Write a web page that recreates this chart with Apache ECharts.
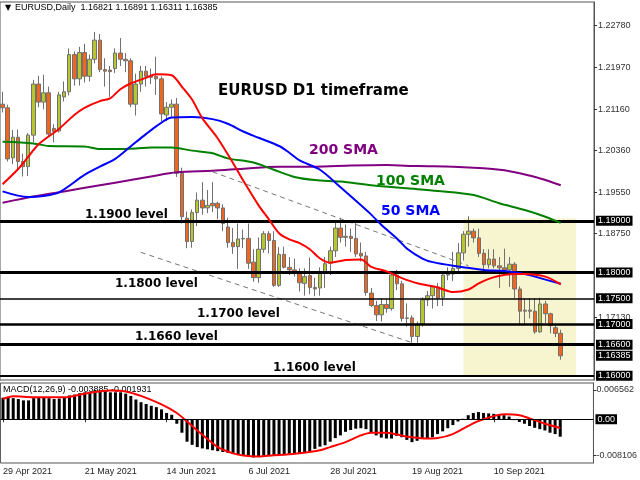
<!DOCTYPE html>
<html><head><meta charset="utf-8">
<script src="https://cdn.jsdelivr.net/npm/echarts@6/dist/echarts.min.js"></script>
<style>html,body{margin:0;padding:0;background:#fff}#c{width:640px;height:480px}</style>
</head><body><div id="c"></div>
<script>
// ---------- DATA ----------
const tradingDays = [
  ['Apr',[29,30]],
  ['May',[3,4,5,6,7,10,11,12,13,14,17,18,19,20,21,24,25,26,27,28,31]],
  ['Jun',[1,2,3,4,7,8,9,10,11,14,15,16,17,18,21,22,23,24,25,28,29,30]],
  ['Jul',[1,2,5,6,7,8,9,12,13,14,15,16,19,20,21,22,23,26,27,28,29,30]],
  ['Aug',[2,3,4,5,6,9,10,11,12,13,16,17,18,19,20,23,24,25,26,27,30,31]],
  ['Sep',[1,2,3,6,7,8,9,10,13,14,15,16,17,20,21,22,23,24,27,28,29]]
];
const emptySlots = 6;

const opens = [1.2126,1.2119,1.2022,1.2062,1.2015,1.2005,1.2066,1.2165,1.2130,1.2148,
1.2079,1.2074,1.2140,1.2150,1.2222,1.2175,1.2226,1.2180,1.2213,1.2250,
1.2193,1.2192,1.2195,1.2225,1.2213,1.2210,1.2126,1.2165,1.2190,1.2178,
1.2180,1.2175,1.2105,1.2120,1.2126,1.1992,1.1905,1.1860,1.1916,1.1940,
1.1925,1.1934,1.1934,1.1925,1.1888,1.1858,1.1850,1.1865,1.1866,1.1820,
1.1790,1.1845,1.1875,1.1862,1.1775,1.1835,1.1810,1.1805,1.1800,1.1779,
1.1794,1.1771,1.1770,1.1801,1.1818,1.1842,1.1886,1.1868,1.1870,1.1866,
1.1837,1.1832,1.1760,1.1736,1.1718,1.1738,1.1730,1.1795,1.1778,1.1711,
1.1712,1.1676,1.1700,1.1747,1.1755,1.1772,1.1752,1.1795,1.1797,1.1808,
1.1838,1.1874,1.1880,1.1867,1.1837,1.1815,1.1826,1.1813,1.1809,1.1805,
1.1816,1.1768,1.1725,1.1727,1.1725,1.1685,1.1739,1.1720,1.1693,1.16821];
const highs = [1.2150,1.2125,1.2076,1.2077,1.2030,1.2070,1.2173,1.2181,1.2183,1.2160,
1.2087,1.2150,1.2170,1.2234,1.2228,1.2237,1.2243,1.2222,1.2266,1.2262,
1.2215,1.2200,1.2234,1.2254,1.2225,1.2215,1.2185,1.2200,1.2200,1.2195,
1.2218,1.2180,1.2130,1.2135,1.2138,1.2003,1.1918,1.1922,1.1955,1.1975,
1.1960,1.1975,1.1937,1.1932,1.1906,1.1886,1.1895,1.1883,1.1895,1.1845,
1.1868,1.1880,1.1880,1.1880,1.1849,1.1850,1.1830,1.1827,1.1808,1.1808,
1.1829,1.1790,1.1810,1.1830,1.1850,1.1898,1.1906,1.1893,1.1885,1.1900,
1.1858,1.1840,1.1770,1.1745,1.1750,1.1748,1.1800,1.1805,1.1784,1.1740,
1.1717,1.1705,1.1752,1.1764,1.1775,1.1780,1.1802,1.1810,1.1840,1.1857,
1.1880,1.1909,1.1885,1.1885,1.1845,1.1845,1.1845,1.1830,1.1846,1.1830,
1.1820,1.1773,1.1750,1.1750,1.1750,1.1751,1.1745,1.1722,1.1698,1.16891];
const lows = [1.2110,1.2015,1.2010,1.1998,1.1986,1.1987,1.2052,1.2120,1.2116,1.2064,
1.2052,1.2071,1.2131,1.2143,1.2162,1.2162,1.2168,1.2170,1.2205,1.2188,
1.2160,1.2140,1.2186,1.2200,1.2188,1.2120,1.2104,1.2150,1.2160,1.2165,
1.2144,1.2093,1.2093,1.2102,1.1985,1.1895,1.1847,1.1848,1.1890,1.1912,
1.1915,1.1917,1.1903,1.1880,1.1848,1.1836,1.1807,1.1847,1.1807,1.1782,
1.1780,1.1838,1.1837,1.1772,1.1772,1.1808,1.1795,1.1792,1.1763,1.1755,
1.1758,1.1754,1.1755,1.1770,1.1795,1.1830,1.1858,1.1850,1.1840,1.1830,
1.1821,1.1755,1.1733,1.1706,1.1705,1.1722,1.1726,1.1766,1.1705,1.1695,
1.1664,1.1664,1.1695,1.1735,1.1730,1.1735,1.1735,1.1785,1.1783,1.1800,
1.1823,1.1850,1.1858,1.1830,1.1802,1.1808,1.1808,1.1770,1.1800,1.1772,
1.1750,1.1700,1.1700,1.1711,1.1681,1.1683,1.1702,1.1682,1.1675,1.16311];
const closes = [1.2119,1.2020,1.2062,1.2015,1.2005,1.2066,1.2165,1.2130,1.2148,1.2068,
1.2073,1.2144,1.2150,1.2222,1.2175,1.2226,1.2180,1.2213,1.2250,1.2193,
1.2190,1.2189,1.2225,1.2213,1.2210,1.2126,1.2165,1.2190,1.2180,1.2180,
1.2175,1.2107,1.2120,1.2126,1.1992,1.1908,1.1860,1.1916,1.1940,1.1925,
1.1930,1.1929,1.1925,1.1895,1.1858,1.1850,1.1865,1.1866,1.1818,1.1790,
1.1845,1.1875,1.1862,1.1775,1.1835,1.1810,1.1805,1.1800,1.1780,1.1792,
1.1771,1.1768,1.1801,1.1817,1.1842,1.1886,1.1868,1.1870,1.1866,1.1836,
1.1832,1.1761,1.1736,1.1718,1.1738,1.1730,1.1795,1.1778,1.1711,1.1712,
1.1676,1.1700,1.1747,1.1755,1.1772,1.1750,1.1795,1.1797,1.1808,1.1838,
1.1874,1.1880,1.1867,1.1837,1.1815,1.1826,1.1813,1.1809,1.1805,1.1816,
1.1768,1.1725,1.1727,1.1725,1.1685,1.1739,1.1720,1.1697,1.1682,1.16385];

// moving averages: [bar index, price]
const sma20 = [[0,1.1971],[3,1.2000],[5,1.2024],[7,1.2048],[11,1.2078],[14,1.2105],[16,1.2119],[19,1.2132],[21,1.2137],[23,1.2155],[25,1.2166],[28,1.2177],[30,1.2184],[33,1.2182],[35,1.2160],[37,1.2135],[39,1.2099],[42,1.2060],[45,1.2012],[47,1.1978],[50,1.1930],[52,1.1903],[54,1.1876],[56,1.1864],[58,1.1857],[60,1.1845],[62,1.1827],[64,1.1819],[67,1.1824],[70,1.1825],[72,1.1811],[75,1.1802],[78,1.1789],[81,1.1779],[85,1.1771],[88,1.1762],[91,1.1767],[93,1.1779],[96,1.1791],[100,1.1797],[102,1.1797],[106,1.1792],[109,1.1777]];
const sma50 = [[0,1.1957],[5,1.1946],[8,1.1948],[11,1.1955],[16,1.1989],[19,1.2005],[22,1.2020],[25,1.2044],[28,1.2068],[30,1.2083],[33,1.2100],[37,1.2101],[41,1.2097],[44,1.2088],[47,1.2073],[50,1.2061],[54,1.2045],[56,1.2032],[58,1.2017],[62,1.1999],[66,1.1965],[70,1.1930],[72,1.1912],[74,1.1892],[77,1.1866],[79,1.1846],[82,1.1827],[84,1.1820],[88,1.1813],[94,1.1805],[98,1.1803],[102,1.1797],[105,1.1789],[109,1.1778]];
const sma100 = [[0,1.2053],[6,1.2050],[9,1.2045],[16,1.2044],[19,1.2039],[22,1.2039],[26,1.2040],[29,1.2042],[33,1.2042],[37,1.2036],[41,1.2031],[44,1.2021],[49,1.2013],[53,1.1999],[57,1.1985],[61,1.1979],[66,1.1976],[72,1.1969],[79,1.1963],[85,1.1958],[92,1.1950],[97,1.1934],[102,1.1921],[106,1.1908],[109,1.1896]];
const sma200 = [[0,1.1935],[6,1.1947],[12,1.1957],[19,1.1969],[25,1.1979],[29,1.1986],[34,1.1994],[41,1.1997],[47,1.2001],[54,1.2005],[61,1.2005],[68,1.2007],[75,1.2008],[81,1.2006],[88,1.2005],[94,1.2002],[98,1.1998],[101,1.1992],[105,1.1982],[109,1.1969]];
const upperTrend = [[41,1.1995],[91,1.1813]];
const lowerTrend = [[27,1.1839],[80,1.1664]];

// MACD(12,26,9) main line (histogram) and signal line
const macdMain = [0.0048,0.0048,0.0047,0.0045,0.0042,0.0042,0.0047,0.0049,0.0049,0.0047,
0.0045,0.0046,0.0048,0.0053,0.0055,0.0058,0.0060,0.0061,0.0065,0.0064,
0.0062,0.0060,0.0060,0.0060,0.0057,0.0052,0.0044,0.0038,0.0034,0.0030,
0.0027,0.0022,0.0014,0.0010,-0.0010,-0.0030,-0.0050,-0.0057,-0.0062,-0.0065,
-0.0067,-0.0069,-0.0071,-0.0073,-0.0075,-0.0077,-0.0079,-0.0081,-0.0083,-0.0085,
-0.0084,-0.0081,-0.0080,-0.0081,-0.0080,-0.0078,-0.0077,-0.0076,-0.0075,-0.0073,
-0.0071,-0.0066,-0.0061,-0.0058,-0.0050,-0.0042,-0.0036,-0.0028,-0.0024,-0.0021,
-0.0020,-0.0022,-0.0030,-0.0036,-0.0041,-0.0043,-0.0043,-0.0037,-0.0040,-0.0046,
-0.0051,-0.0048,-0.0044,-0.0042,-0.0040,-0.0033,-0.0027,-0.0020,-0.0013,-0.0005,
0.0001,0.0009,0.0014,0.0016,0.0014,0.0013,0.0012,0.0010,0.0009,0.0006,
-0.0002,-0.0006,-0.0010,-0.0015,-0.0019,-0.0022,-0.0025,-0.0030,-0.0033,-0.003885];
const macdSignal = [[0,0.0045],[2,0.0051],[6,0.0049],[12,0.0049],[16,0.0057],[21,0.0064],[24,0.0062],[27,0.0052],[31,0.0033],[34,0.0014],[36,-0.0005],[38,-0.0025],[40,-0.0044],[42,-0.0062],[45,-0.0076],[47,-0.0081],[50,-0.0083],[53,-0.0080],[55,-0.0079],[58,-0.0076],[62,-0.0069],[64,-0.0062],[67,-0.0051],[70,-0.0036],[72,-0.0030],[75,-0.0030],[77,-0.0034],[80,-0.0040],[83,-0.0043],[85,-0.0042],[88,-0.0033],[91,-0.0015],[93,-0.0004],[96,0.0007],[98,0.0011],[101,0.0009],[103,0.0002],[106,-0.0010],[109,-0.001931]];

// levels and tick labels
const levels = [1.19, 1.18, 1.175, 1.17, 1.166, 1.16];
const lastPrice = 1.16385;
const priceTicks = [1.2278, 1.2197, 1.2116, 1.2036, 1.1955, 1.1875, 1.1713];
const macdTicks = [0.006562, -0.008106];
const zoneX = [90, 112];
const zoneY = [1.16, 1.1905];

// ---------- BUILD ----------
const dates = [];
tradingDays.forEach(([m, ds]) => ds.forEach(d => dates.push(d + ' ' + m + ' 2021')));
const categories = dates.concat(Array(emptySlots).fill(''));
const candles = dates.map((_, i) => [opens[i], closes[i], lows[i], highs[i]]);

const levelWidths = [3, 3, 1.5, 2.5, 3, 2];
const boxLabel = {
  show: true, position: 'end', distance: 2, color: '#fff', backgroundColor: '#000',
  fontFamily: 'Liberation Sans', fontSize: 9, padding: [1, 2, 0, 2]
};

function levelSeries(value, width, color, z) {
  return {type: 'line', xAxisIndex: 0, yAxisIndex: 0, data: [], z: z, silent: true,
    markLine: {silent: true, symbol: ['none', 'none'], precision: 6, animation: false,
      data: [{yAxis: value, lineStyle: {color: color, width: width, type: 'solid'},
        label: Object.assign({}, boxLabel, {formatter: value.toFixed(5)})}]}};
}

const chart = echarts.init(document.getElementById('c'), null, {renderer: 'canvas'});
const FONT = 'Liberation Sans, DejaVu Sans, sans-serif';
const BOLD = 'bold 12px DejaVu Sans';

function txt(x, y, text, font, fill) {
  return {type: 'text', x: x, y: y, z: 50, silent: true,
    style: {text: text, font: font, fill: fill, verticalAlign: 'middle'}};
}

const series = [
  {type: 'line', xAxisIndex: 0, yAxisIndex: 0, data: [], z: 1, silent: true,
    markArea: {silent: true, itemStyle: {color: '#f7f5cf'},
      data: [[{xAxis: zoneX[0], yAxis: zoneY[0]}, {xAxis: zoneX[1], yAxis: zoneY[1]}]]}},
  {type: 'line', xAxisIndex: 0, yAxisIndex: 0, data: upperTrend, symbol: 'none', z: 2,
    lineStyle: {color: '#777', width: 1, type: [5, 4]}},
  {type: 'line', xAxisIndex: 0, yAxisIndex: 0, data: lowerTrend, symbol: 'none', z: 2,
    lineStyle: {color: '#777', width: 1, type: [5, 4]}},
  {type: 'candlestick', xAxisIndex: 0, yAxisIndex: 0, data: candles, barWidth: 4, z: 3,
    itemStyle: {color: '#b7c62c', color0: '#f0661f', borderColor: '#707070', borderColor0: '#707070', borderWidth: 1}}
];
levels.forEach((v, k) => series.push(levelSeries(v, levelWidths[k], '#000', 4)));
series.push(levelSeries(lastPrice, 0, 'rgba(0,0,0,0)', 4));
series.push(
  {type: 'line', name: '200 SMA', xAxisIndex: 0, yAxisIndex: 0, data: sma200, smooth: 0.3, symbol: 'none', z: 5,
    lineStyle: {color: '#800080', width: 2}},
  {type: 'line', name: '100 SMA', xAxisIndex: 0, yAxisIndex: 0, data: sma100, smooth: 0.3, symbol: 'none', z: 5,
    lineStyle: {color: '#008000', width: 2}},
  {type: 'line', name: '50 SMA', xAxisIndex: 0, yAxisIndex: 0, data: sma50, smooth: 0.3, symbol: 'none', z: 5,
    lineStyle: {color: '#0000ff', width: 2}},
  {type: 'line', name: '20 SMA', xAxisIndex: 0, yAxisIndex: 0, data: sma20, smooth: 0.3, symbol: 'none', z: 5,
    lineStyle: {color: '#ff0000', width: 2}},
  {type: 'bar', xAxisIndex: 1, yAxisIndex: 1, data: macdMain, barWidth: 3, z: 3,
    itemStyle: {color: '#000'},
    markLine: {silent: true, symbol: ['none', 'none'], precision: 6,
      data: [{yAxis: 0, lineStyle: {color: '#000', width: 1, type: 'solid'},
        label: Object.assign({}, boxLabel, {formatter: '0.00'})}]}},
  {type: 'line', xAxisIndex: 1, yAxisIndex: 1, data: macdSignal, smooth: 0.3, symbol: 'none', z: 4,
    lineStyle: {color: '#ff0000', width: 2}}
);

chart.setOption({
  animation: false,
  backgroundColor: '#fff',
  grid: [
    {left: 0, right: 46, top: 2, height: 378, show: true, borderColor: '#555', borderWidth: 1, backgroundColor: '#fff'},
    {left: 0, right: 46, top: 383, height: 80, show: true, borderColor: '#555', borderWidth: 1}
  ],
  xAxis: [
    {type: 'category', gridIndex: 0, data: categories, boundaryGap: true,
      axisLine: {show: false}, axisTick: {show: false}, axisLabel: {show: false}, splitLine: {show: false}},
    {type: 'category', gridIndex: 1, data: categories, boundaryGap: true,
      axisLine: {show: false},
      axisTick: {show: true, alignWithLabel: true, length: 3, lineStyle: {color: '#333'},
        interval: (i, v) => i % 16 === 0 && v !== ''},
      axisLabel: {show: true, align: 'left', margin: 4, fontSize: 9, fontFamily: FONT, color: '#222',
        interval: (i, v) => i % 16 === 0 && v !== ''},
      splitLine: {show: false}}
  ],
  yAxis: [
    {type: 'value', gridIndex: 0, position: 'right', min: 1.15917, max: 1.23239, scale: true,
      splitLine: {show: false}, axisLine: {show: true, lineStyle: {color: '#555'}},
      axisTick: {show: true, length: 3, customValues: priceTicks, lineStyle: {color: '#333'}},
      axisLabel: {show: true, customValues: priceTicks, formatter: v => v.toFixed(5),
        fontSize: 9, fontFamily: FONT, color: '#333', margin: 4}},
    {type: 'value', gridIndex: 1, position: 'right', min: -0.009746, max: 0.008074,
      splitLine: {show: false}, axisLine: {show: true, lineStyle: {color: '#555'}},
      axisTick: {show: true, length: 3, customValues: macdTicks, lineStyle: {color: '#333'}},
      axisLabel: {show: true, customValues: macdTicks, formatter: v => v.toFixed(6),
        fontSize: 9, fontFamily: FONT, color: '#333', margin: 3}}
  ],
  series: series,
  graphic: [
    txt(5, 8, '\u25BC', '8px DejaVu Sans', '#000'),
    txt(15, 8, 'EURUSD,Daily  1.16821 1.16891 1.16311 1.16385', '9px Liberation Sans', '#000'),
    txt(218, 91.5, 'EURUSD D1 timeframe', 'bold 15px DejaVu Sans', '#000'),
    txt(309, 150, '200 SMA', 'bold 14px DejaVu Sans', '#800080'),
    txt(376, 181, '100 SMA', 'bold 14px DejaVu Sans', '#008000'),
    txt(381, 211, '50 SMA', 'bold 14px DejaVu Sans', '#0000ff'),
    txt(85, 215, '1.1900 level', BOLD, '#000'),
    txt(115, 284, '1.1800 level', BOLD, '#000'),
    txt(197, 313.5, '1.1700 level', BOLD, '#000'),
    txt(135, 336.5, '1.1660 level', BOLD, '#000'),
    txt(273, 367.5, '1.1600 level', BOLD, '#000'),
    Object.assign(txt(3, 390, 'MACD(12,26,9) -0.003885 -0.001931', '9px Liberation Sans', '#000'), {z: 0})
  ]
});
</script></body></html>
